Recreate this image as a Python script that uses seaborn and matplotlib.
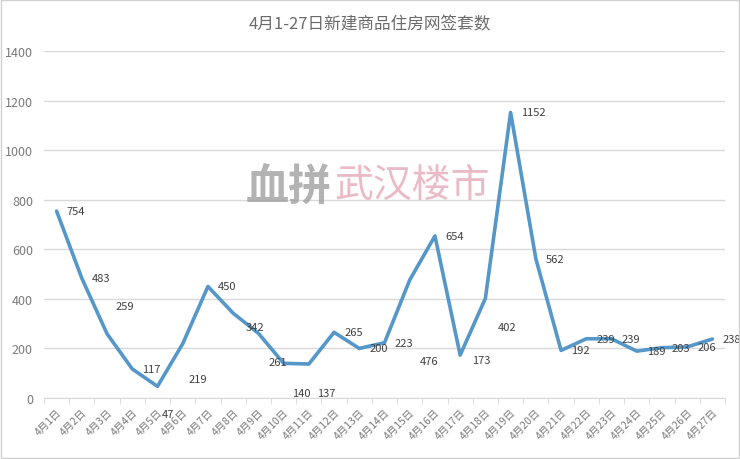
import matplotlib.pyplot as plt
import matplotlib.patches as mpatches
import seaborn as sns
import pandas as pd

days = [f'4月{d}日' for d in range(1, 28)]
signed_units = [754, 483, 259, 117, 47, 219, 450, 342, 261, 140, 137, 265, 200, 223,
                476, 654, 173, 402, 1152, 562, 192, 239, 239, 189, 203, 206, 238]

df = pd.DataFrame({'日期': days, '套数': signed_units})

sns.set_style("white")
plt.rcParams['font.family'] = ['Noto Sans CJK SC', 'DejaVu Sans']

grey = '#6b6b6b'
fig = plt.figure(figsize=(7.4, 4.6), dpi=100)
ax = fig.add_axes([44 / 740, 1 - 399 / 460, 681 / 740, 347 / 460])

sns.lineplot(data=df, x='日期', y='套数', ax=ax, color='#5597c9', linewidth=2.6,
             sort=False)

ax.set_xlim(-0.5, len(days) - 0.5)
ax.set_ylim(0, 1400)
ax.set_yticks(range(0, 1401, 200))
ax.yaxis.grid(True, color='#d9d9d9', linewidth=1)
ax.set_axisbelow(True)
for s in ['top', 'right', 'left']:
    ax.spines[s].set_visible(False)
ax.spines['bottom'].set_color('#d9d9d9')
ax.set_xlabel('')
ax.set_ylabel('')

ax.set_xticks(range(len(days)))
ax.set_xticklabels(days, rotation=45, ha='right', rotation_mode='anchor',
                   fontsize=7.5, color='#7a7a7a')
ax.set_xticks([i - 0.5 for i in range(len(days) + 1)], minor=True)
ax.tick_params(axis='x', which='major', length=0, pad=6)
ax.tick_params(axis='x', which='minor', length=4, color='#d9d9d9', bottom=True)
ax.tick_params(axis='y', length=0, labelsize=9, labelcolor='#7a7a7a', pad=8)

# label offsets in pixels (dx, dy), default to the right of the point
label_shift = {2: (8, 28), 4: (4, -28), 5: (6, -35), 7: (12, -14), 8: (10, -29),
               9: (8, -30), 10: (8, -29), 14: (10, -81), 16: (12, -5), 17: (12, -29)}
for i, v in enumerate(signed_units):
    dx, dy = label_shift.get(i, (10, 0))
    ax.annotate(str(v), (i, v), xytext=(dx, dy), textcoords='offset pixels',
                ha='left', va='center', fontsize=8, color='#404040')

fig.suptitle('4月1-27日新建商品住房网签套数', y=0.965, fontsize=12, color=grey)

# watermark
fig.text(0.448, 0.595, '血拼', fontsize=31, fontweight='bold', style='italic',
         color='#a0a0a0', alpha=0.8, ha='right', va='center')
fig.text(0.452, 0.595, '武汉楼市', fontsize=28, style='italic', color='#e8b4c0',
         alpha=0.9, ha='left', va='center')

fig.patches.append(mpatches.Rectangle((0.002, 0.003), 0.996, 0.994,
                                      transform=fig.transFigure, fill=False,
                                      edgecolor='#d0d0d0', linewidth=1))

fig.savefig('out.png', dpi=100)
